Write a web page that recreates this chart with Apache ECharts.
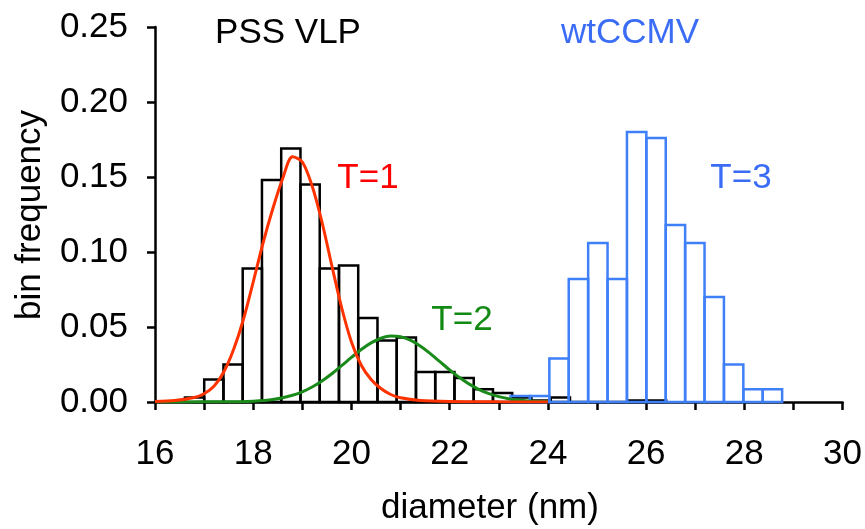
<!DOCTYPE html>
<html>
<head>
<meta charset="utf-8">
<script src="https://cdn.jsdelivr.net/npm/echarts@6/dist/echarts.min.js"></script>
<style>
  html, body { margin: 0; padding: 0; background: #fff; }
  #chart { width: 865px; height: 529px; }
</style>
</head>
<body>
<div id="chart"></div>
<script>
// PSS VLP histogram: first bin edge (nm), bin width (nm), bin frequencies
const vlpBinStart = 16.61;
const vlpBinWidth = 0.392;
const vlpFreq = [0.003, 0.015, 0.025, 0.089, 0.148, 0.169, 0.145, 0.089, 0.091, 0.056,
                 0.041, 0.043, 0.020, 0.020, 0.016, 0.0085, 0.006, 0.003, 0.001, 0.003,
                 0, 0, 0, 0.001, 0.001];

// wtCCMV histogram
const ccmvBinStart = 23.24;
const ccmvBinWidth = 0.395;
const ccmvFreq = [0.004, 0.004, 0.029, 0.082, 0.106, 0.082, 0.180, 0.176, 0.118, 0.106,
                  0.070, 0.025, 0.0085, 0.0085];

// Fitted size distributions: diameters (nm) and fit values
const t1X = [16.0, 16.4, 16.8, 17.0, 17.2, 17.4, 17.6, 17.8, 18.0, 18.2, 18.4, 18.6, 18.8,
             19.0, 19.2, 19.4, 19.6, 19.8, 20.0, 20.2, 20.4, 20.6, 20.8, 21.0, 21.4, 22.0, 23.0, 24.0];
const t1Y = [0.0003, 0.0010, 0.0030, 0.0055, 0.0105, 0.0200, 0.0350, 0.0550, 0.0800, 0.1060,
             0.1290, 0.1490, 0.1635, 0.1600, 0.1440, 0.1200, 0.0910, 0.0630, 0.0400, 0.0245,
             0.0150, 0.0090, 0.0050, 0.0028, 0.0010, 0.0003, 0.0001, 0.0000];

const t2X = [16.0, 16.5, 17.0, 17.5, 18.0, 18.4, 18.8, 19.0, 19.2, 19.4, 19.6, 19.8, 20.0,
             20.2, 20.4, 20.6, 20.8, 21.0, 21.2, 21.4, 21.6, 21.8, 22.0, 22.2, 22.4, 22.6,
             22.8, 23.0, 23.2, 23.4, 23.6, 23.8, 24.0];
const t2Y = [0.0000, 0.0000, 0.0001, 0.0001, 0.0005, 0.0016, 0.0045, 0.0068, 0.0100, 0.0140,
             0.0188, 0.0242, 0.0297, 0.0350, 0.0394, 0.0425, 0.0440, 0.0435, 0.0412, 0.0373,
             0.0324, 0.0269, 0.0214, 0.0163, 0.0119, 0.0083, 0.0056, 0.0036, 0.0022, 0.0013,
             0.0007, 0.0004, 0.0002];

const xTicks = { min: 16, max: 30, step: 1 };
const yTicks = { min: 0, max: 0.25, step: 0.05 };

const FONT = '"Liberation Sans", Arial, Helvetica, sans-serif';
const FS = 35;
const BLUE = '#3f7ff8';

function binRows(start, width, freq) {
  return freq.map((f, i) => [start + i * width, start + (i + 1) * width, f]);
}

function histRender(color) {
  return function (params, api) {
    const p0 = api.coord([api.value(0), 0]);
    const p1 = api.coord([api.value(1), api.value(2)]);
    return {
      type: 'rect',
      shape: { x: p0[0], y: p1[1], width: p1[0] - p0[0], height: p0[1] - p1[1] },
      style: { fill: 'none', stroke: color, lineWidth: 2.5 }
    };
  };
}

function label(text, x, y, color, rotation) {
  return {
    type: 'text', x: x, y: y, rotation: rotation || 0,
    style: { text: text, fill: color, font: FS + 'px ' + FONT, textAlign: 'center', textVerticalAlign: 'middle' }
  };
}

const chart = echarts.init(document.getElementById('chart'), null, { renderer: 'canvas' });

chart.setOption({
  animation: false,
  backgroundColor: '#ffffff',
  grid: { left: 155, right: 21.5, top: 27, bottom: 127, containLabel: false },
  xAxis: {
    type: 'value',
    min: xTicks.min, max: xTicks.max, interval: xTicks.step,
    splitLine: { show: false },
    axisLine: { show: true, onZero: false, lineStyle: { color: '#000', width: 2.5 } },
    axisTick: { show: true, inside: false, length: 8, lineStyle: { color: '#000', width: 2.5 } },
    axisLabel: {
      margin: 35, color: '#000', fontSize: FS, fontFamily: FONT,
      formatter: v => (Math.round(v) % 2 === 0 ? String(v) : '')
    }
  },
  yAxis: {
    type: 'value',
    min: yTicks.min, max: yTicks.max, interval: yTicks.step,
    splitLine: { show: false },
    axisLine: { show: true, lineStyle: { color: '#000', width: 2.5 } },
    axisTick: { show: true, inside: false, length: 8, lineStyle: { color: '#000', width: 2.5 } },
    axisLabel: {
      margin: 27, color: '#000', fontSize: FS, fontFamily: FONT,
      formatter: v => v.toFixed(2)
    }
  },
  series: [
    {
      type: 'custom', name: 'PSS VLP', z: 2,
      renderItem: histRender('#000000'),
      data: binRows(vlpBinStart, vlpBinWidth, vlpFreq)
    },
    {
      type: 'custom', name: 'wtCCMV', z: 3,
      renderItem: histRender(BLUE),
      data: binRows(ccmvBinStart, ccmvBinWidth, ccmvFreq)
    },
    {
      type: 'line', name: 'T=2', z: 4, smooth: 0.3, showSymbol: false,
      lineStyle: { color: '#1a8a1a', width: 3 },
      data: t2X.map((x, i) => [x, t2Y[i]])
    },
    {
      type: 'line', name: 'T=1', z: 5, smooth: 0.3, showSymbol: false,
      lineStyle: { color: '#ff3300', width: 3 },
      data: t1X.map((x, i) => [x, t1Y[i]])
    }
  ],
  graphic: [
    label('PSS VLP', 288, 33, '#000000'),
    label('wtCCMV', 630, 33, '#3a6cf6'),
    label('T=1', 368, 178, '#ff0000'),
    label('T=2', 462, 320, '#138a13'),
    label('T=3', 741, 178, '#3a6cf6'),
    label('diameter (nm)', 490, 508, '#000000'),
    label('bin frequency', 30, 215, '#000000', Math.PI / 2)
  ]
});
</script>
</body>
</html>
